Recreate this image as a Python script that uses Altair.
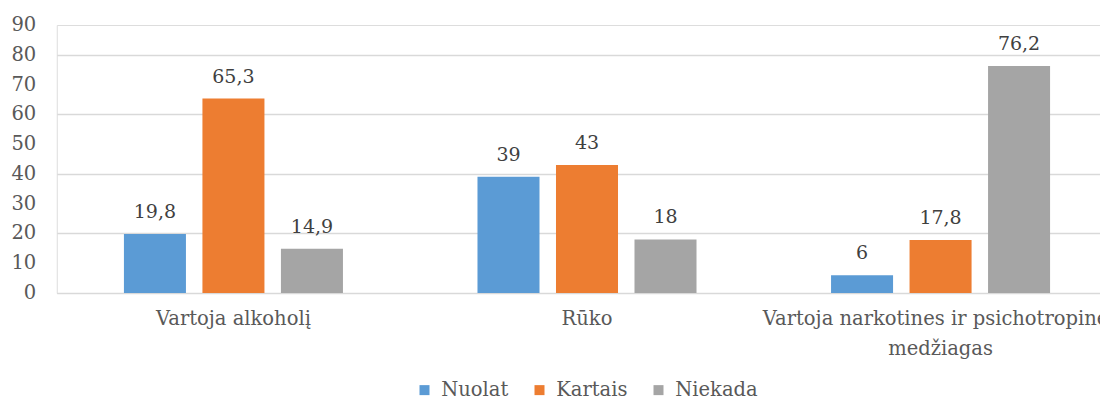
import altair as alt
import pandas as pd

categories = ["Vartoja alkoholį", "Rūko", "Vartoja narkotines ir psichotropines\nmedžiagas"]
series = ["Nuolat", "Kartais", "Niekada"]
nuolat = [19.8, 39, 6]
kartais = [65.3, 43, 17.8]
niekada = [14.9, 18, 76.2]
colors = ["#5B9BD5", "#ED7D31", "#A5A5A5"]
y_ticks = [0, 10, 20, 30, 40, 50, 60, 70, 80, 90]

rows = []
for i, c in enumerate(categories):
    for s, vals in zip(series, [nuolat, kartais, niekada]):
        v = vals[i]
        lab = (f"{v:.1f}".replace(".", ",")) if v != int(v) else str(int(v))
        rows.append({"cat": c, "series": s, "value": v, "label": lab})
df = pd.DataFrame(rows)
ticks_df = pd.DataFrame({"value": y_ticks, "label": [str(t) for t in y_ticks]})

FONT = "DejaVu Serif"
FS = 19.5
yscale = alt.Scale(domain=[0, 90], nice=False)

x_enc = alt.X("cat:N", sort=categories, title=None,
              scale=alt.Scale(range=[0, 1060.5], paddingInner=0.3805, paddingOuter=0.19),
              axis=alt.Axis(labelAngle=0, labelPadding=16,
                            labelLimit=1000, labelLineHeight=30,
                            labelExpr="split(datum.label, '\\n')"))
xo = alt.XOffset("series:N", sort=series, scale=alt.Scale(paddingInner=0.21, paddingOuter=0))
y_enc = alt.Y("value:Q", title=None, scale=yscale,
              axis=alt.Axis(values=y_ticks, labels=False, grid=True))

bars = alt.Chart(df).mark_bar().encode(
    x=x_enc, xOffset=xo, y=y_enc,
    color=alt.Color("series:N", sort=series,
                    scale=alt.Scale(domain=series, range=colors),
                    legend=alt.Legend(title=None, orient="none", direction="horizontal",
                                      legendX=358, legendY=355,
                                      symbolType="square", symbolSize=100,
                                      symbolStrokeWidth=0,
                                      labelOffset=7, columnPadding=21))
)

text = alt.Chart(df).mark_text(font=FONT, fontSize=19, color="#404040",
                               baseline="alphabetic", dy=-16).encode(
    x=alt.X("cat:N", sort=categories),
    xOffset=alt.XOffset("series:N", sort=series),
    y=alt.Y("value:Q", scale=yscale),
    text="label:N"
)

ylabels = alt.Chart(ticks_df).mark_text(font=FONT, fontSize=FS, color="#595959",
                                        align="right", baseline="middle").encode(
    x=alt.value(-20.5),
    y=alt.Y("value:Q", scale=yscale),
    text="label:N"
)

chart = alt.layer(bars, text, ylabels).properties(
    width=1043.25, height=268,
    autosize=alt.AutoSizeParams(type="none"),
    padding={"left": 48.75, "top": 17, "right": 0, "bottom": 108}
).configure_view(stroke=None).configure(background="white").configure_axis(
    labelFont=FONT, labelFontSize=FS, labelColor="#595959",
    domain=False, ticks=False, gridColor="#D9D9D9", gridWidth=1.3
).configure_legend(
    labelFont=FONT, labelFontSize=FS, labelColor="#595959")

chart.save("out.html", embed_options={"renderer": "svg", "actions": False})
